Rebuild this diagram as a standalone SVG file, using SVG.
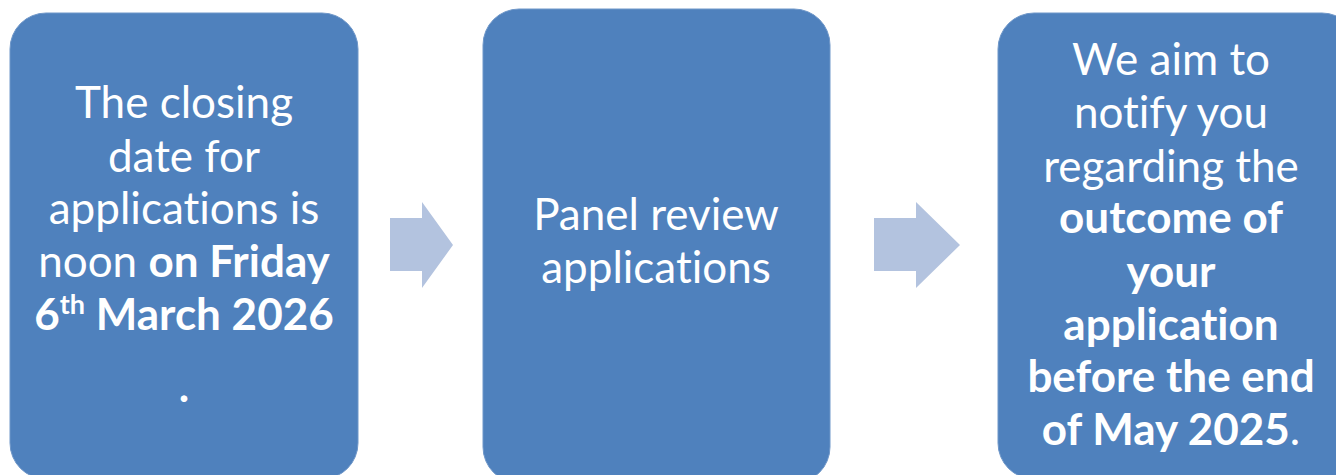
<svg xmlns="http://www.w3.org/2000/svg" width="1336" height="475" viewBox="0 0 1336 475">
<style>
.box{fill:#4F81BD;stroke:#6F97C9;stroke-width:1}
.arr{fill:#B3C3DF}
text{font-family:Lato,"Liberation Sans",sans-serif;font-size:44px;fill:#FFFFFF;text-anchor:middle;font-variant-ligatures:none}
.b{font-weight:bold}
</style>
<rect width="1336" height="475" fill="#FFFFFF"/>
<g id="connectors">
<polygon class="arr" points="390,218 422,218 422,202 453,245 422,288 422,271 390,271"/>
<polygon class="arr" points="874,218 916,218 916,202 960,245 916,288 916,271 874,271"/>
</g>
<g id="node1">
<rect class="box" x="10" y="13" width="348" height="466" rx="36"/>
<text x="184" y="118">The closing</text>
<text x="184" y="172">date for</text>
<text x="184" y="224">applications is</text>
<text x="184" y="277">noon <tspan class="b">on Friday</tspan></text>
<text x="184" y="330" class="b">6<tspan font-size="27" dy="-16">th</tspan><tspan dy="16"> March 2026</tspan></text>
<text x="184" y="402" class="b">.</text>
</g>
<g id="node2">
<rect class="box" x="483" y="9" width="347" height="474" rx="36"/>
<text x="656" y="230">Panel review</text>
<text x="656" y="283">applications</text>
</g>
<g id="node3">
<rect class="box" x="998" y="13" width="360" height="466" rx="36"/>
<text x="1171" y="75">We aim to</text>
<text x="1171" y="128">notify you</text>
<text x="1171" y="182">regarding the</text>
<text x="1171" y="233" class="b">outcome of</text>
<text x="1171" y="287" class="b">your</text>
<text x="1171" y="340" class="b">application</text>
<text x="1171" y="392" class="b">before the end</text>
<text x="1171" y="445"><tspan class="b">of May 2025</tspan>.</text>
</g>
</svg>
